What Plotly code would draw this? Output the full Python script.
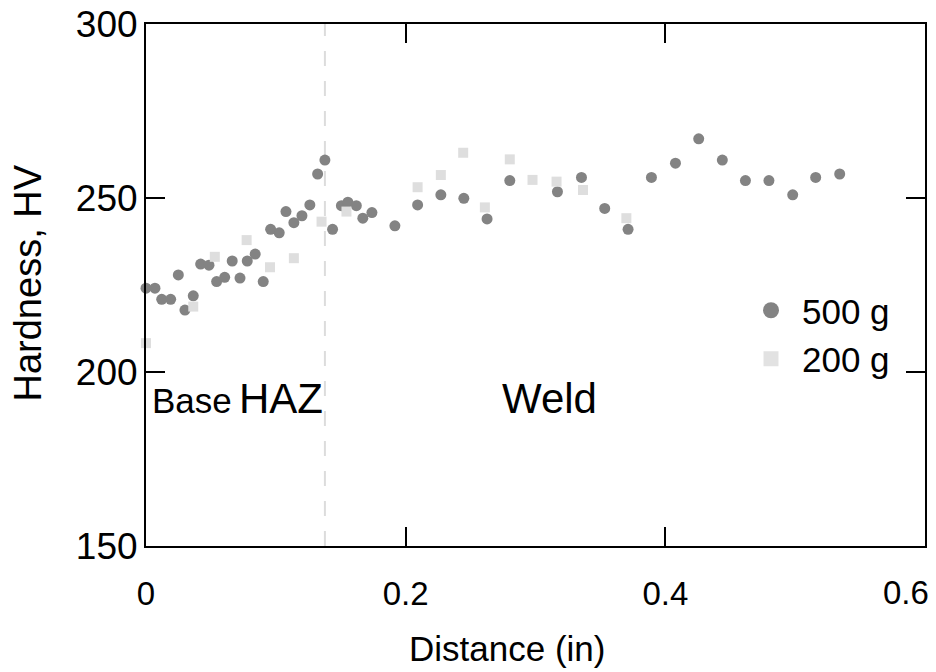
import plotly.graph_objects as go

# 500 g series
dist_500 = [0.000, 0.0069, 0.0121, 0.019, 0.0249, 0.030, 0.0364, 0.0421, 0.0485, 0.0544,
            0.0606, 0.0664, 0.0724, 0.078, 0.0841, 0.0903, 0.096, 0.1026, 0.1078, 0.1139,
            0.1201, 0.1262, 0.1322, 0.1378, 0.1437, 0.1505, 0.1555, 0.162, 0.167, 0.174,
            0.1917, 0.2092, 0.2271, 0.2448, 0.2627, 0.2802, 0.3169, 0.3354, 0.3533, 0.3713,
            0.3893, 0.4078, 0.4257, 0.4439, 0.4617, 0.4798, 0.4981, 0.5158, 0.5343]
hv_500 = [224.1, 224.1, 220.9, 220.9, 227.9, 217.8, 221.9, 231.0, 230.7, 226.0,
          227.2, 231.9, 227.0, 231.9, 233.9, 226.0, 241.0, 240.0, 246.1, 242.9,
          244.9, 248.0, 256.9, 260.9, 241.0, 247.8, 248.8, 247.8, 244.2, 245.8,
          242.0, 248.0, 250.9, 249.9, 244.0, 255.0, 251.8, 255.9, 247.0, 241.0,
          255.9, 260.0, 267.0, 260.9, 255.0, 255.0, 250.9, 255.9, 256.9]

# 200 g series
dist_200 = [0.000, 0.0364, 0.053, 0.0775, 0.0955, 0.1139, 0.1352, 0.1544, 0.2092, 0.2271,
            0.2443, 0.261, 0.2802, 0.2977, 0.3162, 0.3366, 0.370]
hv_200 = [208.3, 218.8, 233.1, 237.9, 230.1, 232.7, 243.2, 246.1, 253.1, 256.6,
          263.0, 247.3, 261.1, 255.2, 254.7, 252.3, 244.2]

haz_boundary = 0.1378
x_ticks = [0, 0.2, 0.4, 0.6]
x_tick_text = ["0", "0.2", "0.4", "0.6"]
y_ticks = [150, 200, 250, 300]

FONT = "Liberation Sans, Arial, sans-serif"

fig = go.Figure()
fig.add_trace(go.Scatter(
    x=dist_500, y=hv_500, mode="markers", name="500 g", showlegend=False,
    marker=dict(symbol="circle", size=11, color="#838383", line=dict(width=0)),
    cliponaxis=False,
))
fig.add_trace(go.Scatter(
    x=dist_200, y=hv_200, mode="markers", name="200 g", showlegend=False,
    marker=dict(symbol="square", size=10, color="#dedede", line=dict(width=0)),
    cliponaxis=False,
))
# legend entries (larger symbols, as in the reference key)
fig.add_trace(go.Scatter(
    x=[None], y=[None], mode="markers", name="500 g",
    marker=dict(symbol="circle", size=16, color="#838383", line=dict(width=0)),
))
fig.add_trace(go.Scatter(
    x=[None], y=[None], mode="markers", name="200 g",
    marker=dict(symbol="square", size=15, color="#e2e2e2", line=dict(width=0)),
))

fig.add_shape(type="line", x0=haz_boundary, x1=haz_boundary, y0=150, y1=300,
              xref="x", yref="y", line=dict(color="#dcdcdc", width=2, dash="longdash"),
              layer="below")

axis_common = dict(showgrid=False, zeroline=False, showline=True, linecolor="black",
                   linewidth=2, mirror="ticks", ticks="inside", ticklen=19,
                   tickwidth=2, tickcolor="black", automargin=False)

# last x tick label is drawn as an annotation so it stays inside the page
fig.update_xaxes(range=[0, 0.6], tickvals=x_ticks,
                 ticktext=x_tick_text[:-1] + [""],
                 tickfont=dict(family=FONT, size=33, color="black"),
                 ticklabelstandoff=17, **axis_common)
fig.update_yaxes(range=[150, 300], tickvals=y_ticks,
                 tickfont=dict(family=FONT, size=37, color="black"),
                 ticklabelstandoff=-1, **axis_common)

fig.add_annotation(text=x_tick_text[-1], x=x_ticks[-1], xref="x", yref="paper",
                   y=1 - (592 - 24) / 522, xanchor="right", yanchor="middle",
                   xshift=6, showarrow=False,
                   font=dict(family=FONT, size=33, color="black"))

fig.add_annotation(text="Distance (in)", xref="paper", yref="paper",
                   x=(507 - 146) / 779, y=1 - (648 - 24) / 522,
                   xanchor="center", yanchor="middle", showarrow=False,
                   font=dict(family=FONT, size=35, color="black"))
fig.add_annotation(text="Hardness, HV", xref="paper", yref="paper",
                   x=(27.5 - 146) / 779, y=1 - (283 - 24) / 522,
                   xanchor="center", yanchor="middle", textangle=-90, showarrow=False,
                   font=dict(family=FONT, size=38, color="black"))

fig.add_annotation(text="Base", x=0.003, y=191.7, xanchor="left", yanchor="middle",
                   showarrow=False, font=dict(family=FONT, size=35, color="black"))
fig.add_annotation(text="HAZ", x=0.0698, y=192.5, xanchor="left", yanchor="middle",
                   showarrow=False, font=dict(family=FONT, size=42, color="black"))
fig.add_annotation(text="Weld", x=0.2725, y=192.5, xanchor="left", yanchor="middle",
                   showarrow=False, font=dict(family=FONT, size=42, color="black"))

fig.update_layout(
    width=936, height=672,
    margin=dict(l=146, r=11, t=24, b=126, autoexpand=False),
    paper_bgcolor="white", plot_bgcolor="white",
    showlegend=True,
    legend=dict(x=(740 - 146) / 779, y=1 - (281 - 24) / 522, xanchor="left", yanchor="top",
                bgcolor="rgba(0,0,0,0)", borderwidth=0, itemwidth=52,
                font=dict(family=FONT, size=35, color="black"),
                tracegroupgap=0),
)

fig.write_html("out.html", config={"displayModeBar": False},
               post_script="document.body.style.margin='0';document.body.style.padding='0';")
